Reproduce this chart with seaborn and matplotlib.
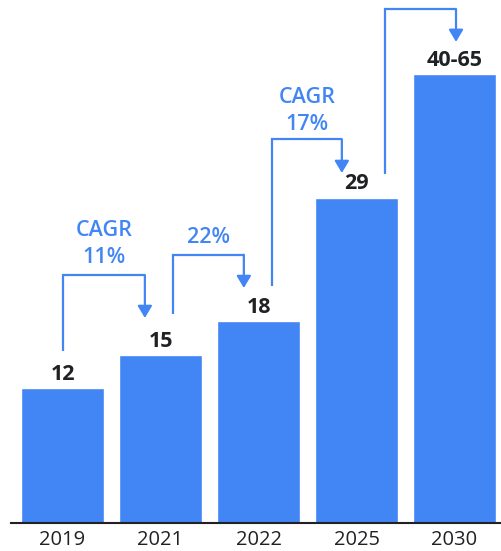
import matplotlib
matplotlib.use("Agg")
import matplotlib.pyplot as plt
import seaborn as sns
import pandas as pd

# ---- data ----
years = ["2019", "2021", "2022", "2025", "2030"]
values = [12, 15, 18, 29, 40]
value_labels = ["12", "15", "18", "29", "40-65"]
growth_labels = ["CAGR\n11%", "22%", "CAGR\n17%", ""]

BLUE = "#4285F4"
DARK = "#202124"

sns.set_theme(style="white")
plt.rcParams["font.family"] = ["Open Sans", "DejaVu Sans"]

fig = plt.figure(figsize=(5.01, 5.51), dpi=100)
ax = fig.add_axes([11 / 501, 1 - 523 / 551, 490 / 501, 523 / 551])

df = pd.DataFrame({"year": years, "value": values})
sns.barplot(data=df, x="year", y="value", color=BLUE, saturation=1,
            width=0.847, ax=ax)

ax.set_xlim(-0.526, 4.474)
ax.set_ylim(0, 46.6)
ax.set_xlabel("")
ax.set_ylabel("")
ax.set_yticks([])
for s in ["left", "right", "top"]:
    ax.spines[s].set_visible(False)
ax.spines["bottom"].set_color(DARK)
ax.spines["bottom"].set_linewidth(1.5)
ax.tick_params(axis="x", length=0, pad=5, labelsize=14.5, colors=DARK)
for t in ax.get_xticklabels():
    t.set_fontweight("medium")

# value labels
for i, (v, lab) in enumerate(zip(values, value_labels)):
    ax.text(i, v + 0.72, lab, ha="center", va="baseline", fontsize=15.5,
            fontweight="bold", color=DARK)

# growth arrows: (left x offset from bar i, top height, right x offset from bar i+1)
arrow_left = [0.0, 0.13, 0.14, 0.29]
arrow_top = [22.1, 23.9, 34.2, 45.8]
arrow_right = [-0.16, -0.15, -0.15, 0.015]
start_gap = [3.33, 3.63, 3.12, 2.1]
tip_gap = [3.27, 2.94, 2.19, 2.87]
label_y = [23.17, 24.96, 35.03, 0]

lw = 1.6
for i in range(4):
    xl = i + arrow_left[i]
    xr = i + 1 + arrow_right[i]
    y0 = values[i] + start_gap[i]
    yt = arrow_top[i]
    ytip = values[i + 1] + tip_gap[i]
    ax.plot([xl, xl, xr], [y0, yt, yt], color=BLUE, lw=lw,
            solid_capstyle="butt", solid_joinstyle="miter", clip_on=False)
    ax.annotate("", xy=(xr, ytip), xytext=(xr, yt),
                arrowprops=dict(arrowstyle="-|>,head_length=7.2,head_width=4.3",
                                mutation_scale=1, color=BLUE, lw=lw,
                                shrinkA=0, shrinkB=0),
                annotation_clip=False)
    if growth_labels[i]:
        ax.text((xl + xr) / 2, label_y[i], growth_labels[i], ha="center",
                va="baseline", fontsize=15.5, fontweight="semibold", color=BLUE,
                linespacing=1.35)

fig.savefig("out.png", dpi=100)
